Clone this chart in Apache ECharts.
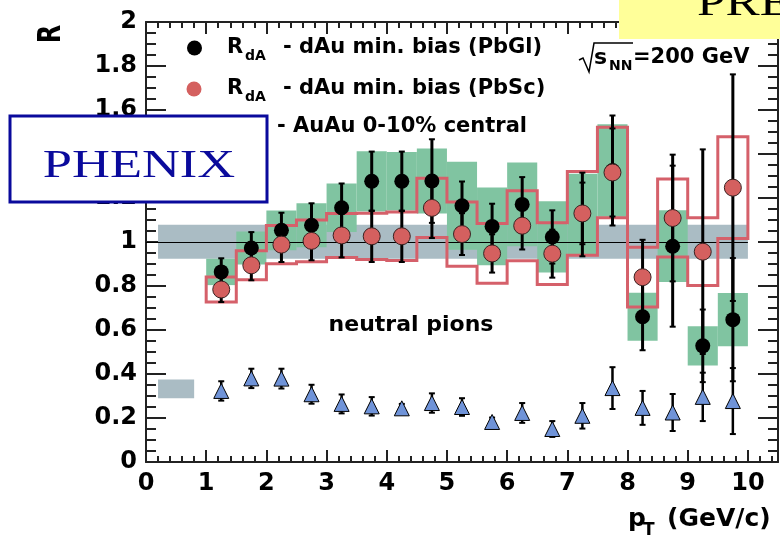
<!DOCTYPE html>
<html>
<head>
<meta charset="utf-8">
<script src="https://cdn.jsdelivr.net/npm/echarts@6/dist/echarts.min.js"></script>
<style>
  html, body { margin: 0; padding: 0; background: #ffffff; }
  #chart { width: 780px; height: 541px; }
</style>
</head>
<body>
<div id="chart"></div>
<script>
// pT bins (GeV/c): centres and half width
const binCenters = [1.25, 1.75, 2.25, 2.75, 3.25, 3.75, 4.25, 4.75, 5.25, 5.75, 6.25, 6.75, 7.25, 7.75, 8.25, 8.75, 9.25, 9.75];
const binHalfWidth = 0.25;

// R_dA, dAu min. bias, PbGl calorimeter
const pbglValues = [0.864, 0.973, 1.053, 1.076, 1.156, 1.276, 1.276, 1.277, 1.165, 1.071, 1.171, 1.023, 1.125, 1.325, 0.660, 0.981, 0.528, 0.647];
const pbglStat   = [0.062, 0.072, 0.080, 0.100, 0.110, 0.135, 0.135, 0.190, 0.110, 0.103, 0.124, 0.121, 0.190, 0.250, 0.152, 0.366, 0.165, 0.280];
const pbglSys    = [0.060, 0.075, 0.090, 0.100, 0.110, 0.137, 0.133, 0.148, 0.200, 0.177, 0.190, 0.162, 0.185, 0.210, 0.109, 0.163, 0.089, 0.121];

// R_dA, dAu min. bias, PbSc calorimeter
const pbscValues = [0.784, 0.894, 0.988, 1.005, 1.030, 1.026, 1.026, 1.155, 1.036, 0.948, 1.074, 0.947, 1.130, 1.316, 0.840, 1.109, 0.956, 1.247];
const pbscStat   = [0.057, 0.068, 0.079, 0.088, 0.100, 0.117, 0.117, 0.137, 0.095, 0.087, 0.108, 0.109, 0.140, 0.200, 0.170, 0.288, 0.465, 0.515];
const pbscSys    = [0.057, 0.066, 0.087, 0.095, 0.100, 0.105, 0.110, 0.135, 0.146, 0.136, 0.159, 0.140, 0.190, 0.206, 0.136, 0.177, 0.154, 0.231];

// R_AA, AuAu 0-10% central
const auauValues = [0.323, 0.380, 0.379, 0.308, 0.264, 0.253, 0.244, 0.268, 0.250, 0.182, 0.223, 0.150, 0.210, 0.336, 0.246, 0.225, 0.296, 0.277];
const auauStat   = [0.044, 0.044, 0.045, 0.043, 0.043, 0.042, 0.020, 0.044, 0.040, 0.020, 0.045, 0.036, 0.058, 0.095, 0.077, 0.084, 0.110, 0.150];

// normalisation uncertainties: [x0, x1, y0, y1]
const normBandDA = [0.2, 10.0, 0.924, 1.078];
const normBoxAA  = [0.2, 0.8, 0.290, 0.375];
// reference line at R = 1: [x0, x1, y]
const unityLine = [0, 10, 1];

// axis ranges and tick steps
const xRange = [0, 10.5];
const yRange = [0, 2];
const xMajorStep = 1, xMinorStep = 0.2;
const yMajorStep = 0.2, yMinorSplit = 4;

const SANS = '"DejaVu Sans", sans-serif';
const SERIF = '"Liberation Serif", "DejaVu Serif", serif';
const AXIS_COLOR = '#222222';
const GREEN = '#80c4a1';
const GREY = '#aabcc4';
const RED_LINE = '#d5606a';
const RED_MARK = '#d4605f';
const BLUE = '#6f93d8';

const chart = echarts.init(document.getElementById('chart'), null, { renderer: 'canvas' });

function boxRect(api, x0, x1, y0, y1) {
  const a = api.coord([x0, y1]);
  const b = api.coord([x1, y0]);
  return { x: a[0], y: a[1], width: b[0] - a[0], height: b[1] - a[1] };
}

function errorBarSeries(values, errs, width, capHalf) {
  return {
    type: 'custom',
    xAxisIndex: 0, yAxisIndex: 0,
    silent: true,
    data: binCenters.map((x, i) => [x, values[i] - errs[i], values[i] + errs[i]]),
    encode: { x: 0, y: [1, 2] },
    renderItem: function (params, api) {
      const top = api.coord([api.value(0), api.value(2)]);
      const bot = api.coord([api.value(0), api.value(1)]);
      const st = { stroke: '#000000', lineWidth: width };
      const cs = { stroke: '#000000', lineWidth: 2 };
      return {
        type: 'group',
        children: [
          { type: 'line', shape: { x1: top[0], y1: top[1], x2: bot[0], y2: bot[1] }, style: st },
          { type: 'line', shape: { x1: top[0] - capHalf, y1: top[1], x2: top[0] + capHalf, y2: top[1] }, style: cs },
          { type: 'line', shape: { x1: bot[0] - capHalf, y1: bot[1], x2: bot[0] + capHalf, y2: bot[1] }, style: cs }
        ]
      };
    }
  };
}

// x axes: major and minor ticks drawn by separate axes (bottom and top)
function xAxisDef(position, step, tickLen, showLine, showLabel) {
  return {
    type: 'value', position: position, min: xRange[0], max: xRange[1], interval: step,
    axisLine: { show: showLine, onZero: false, lineStyle: { color: AXIS_COLOR, width: 2 } },
    axisTick: { show: true, inside: true, length: tickLen, lineStyle: { color: AXIS_COLOR, width: 2 } },
    minorTick: { show: false },
    splitLine: { show: false },
    axisLabel: {
      show: showLabel, margin: 10, showMaxLabel: false,
      color: '#000000', fontFamily: SANS, fontWeight: 'bold', fontSize: 24
    }
  };
}
function yAxisDef(position, showLabel) {
  return {
    type: 'value', position: position, min: yRange[0], max: yRange[1], interval: yMajorStep,
    axisLine: { show: true, onZero: false, lineStyle: { color: AXIS_COLOR, width: 2 } },
    axisTick: { show: true, inside: true, length: 20, lineStyle: { color: AXIS_COLOR, width: 2 } },
    minorTick: { show: true, splitNumber: yMinorSplit, length: 10, lineStyle: { color: AXIS_COLOR, width: 2 } },
    splitLine: { show: false },
    axisLabel: {
      show: showLabel, margin: 9,
      color: '#000000', fontFamily: SANS, fontWeight: 'bold', fontSize: 24
    }
  };
}

function txt(x, y, text, size, opts) {
  opts = opts || {};
  return {
    type: 'text', x: x, y: y, z: 100,
    rotation: opts.rotation || 0,
    scaleX: opts.scaleX || 1, scaleY: opts.scaleY || 1,
    style: {
      text: text,
      fill: opts.color || '#000000',
      font: (opts.weight || 'bold') + ' ' + size + 'px ' + (opts.family || SANS),
      align: opts.align || 'left',
      verticalAlign: opts.valign || 'middle'
    }
  };
}

const option = {
  animation: false,
  backgroundColor: '#ffffff',
  grid: { left: 146, top: 22, width: 632, height: 440, containLabel: false },
  xAxis: [
    xAxisDef('bottom', xMajorStep, 12, true, true),
    xAxisDef('bottom', xMinorStep, 6, false, false),
    xAxisDef('top', xMajorStep, 12, true, false),
    xAxisDef('top', xMinorStep, 6, false, false)
  ],
  yAxis: [
    yAxisDef('left', true),
    yAxisDef('right', false)
  ],
  series: [
    // dAu normalisation band around R = 1
    {
      type: 'custom', silent: true, xAxisIndex: 0, yAxisIndex: 0,
      data: [normBandDA],
      encode: { x: [0, 1], y: [2, 3] },
      renderItem: function (params, api) {
        return { type: 'rect', shape: boxRect(api, api.value(0), api.value(1), api.value(2), api.value(3)), style: { fill: GREY } };
      }
    },
    // PbGl systematic boxes
    {
      type: 'custom', silent: true, xAxisIndex: 0, yAxisIndex: 0,
      data: binCenters.map((x, i) => [x, pbglValues[i] - pbglSys[i], pbglValues[i] + pbglSys[i]]),
      encode: { x: 0, y: [1, 2] },
      renderItem: function (params, api) {
        const x = api.value(0);
        return { type: 'rect', shape: boxRect(api, x - binHalfWidth, x + binHalfWidth, api.value(1), api.value(2)), style: { fill: GREEN } };
      }
    },
    // R = 1 reference line
    {
      type: 'custom', silent: true, xAxisIndex: 0, yAxisIndex: 0,
      data: [unityLine],
      encode: { x: [0, 1], y: 2 },
      renderItem: function (params, api) {
        const a = api.coord([api.value(0), api.value(2)]);
        const b = api.coord([api.value(1), api.value(2)]);
        return { type: 'line', shape: { x1: a[0], y1: Math.round(a[1]) + 0.5, x2: b[0], y2: Math.round(b[1]) + 0.5 }, style: { stroke: '#000000', lineWidth: 1 } };
      }
    },
    // PbSc systematic band: stepped outline over all bins
    {
      type: 'custom', silent: true, xAxisIndex: 0, yAxisIndex: 0,
      data: [[binCenters[0], pbscValues[0]]],
      encode: { x: 0, y: 1 },
      renderItem: function (params, api) {
        const upper = [], lower = [];
        binCenters.forEach((x, i) => {
          const hi = pbscValues[i] + pbscSys[i];
          const lo = pbscValues[i] - pbscSys[i];
          upper.push(api.coord([x - binHalfWidth, hi]), api.coord([x + binHalfWidth, hi]));
          lower.push(api.coord([x - binHalfWidth, lo]), api.coord([x + binHalfWidth, lo]));
        });
        const pts = upper.concat(lower.reverse());
        return { type: 'polygon', shape: { points: pts }, style: { fill: null, stroke: RED_LINE, lineWidth: 3, lineJoin: 'miter' } };
      }
    },
    // AuAu normalisation box
    {
      type: 'custom', silent: true, xAxisIndex: 0, yAxisIndex: 0,
      data: [normBoxAA],
      encode: { x: [0, 1], y: [2, 3] },
      renderItem: function (params, api) {
        return { type: 'rect', shape: boxRect(api, api.value(0), api.value(1), api.value(2), api.value(3)), style: { fill: GREY } };
      }
    },
    errorBarSeries(auauValues, auauStat, 2.5, 3),
    errorBarSeries(pbglValues, pbglStat, 3, 3),
    errorBarSeries(pbscValues, pbscStat, 3, 3),
    {
      name: 'AuAu 0-10% central', type: 'scatter', silent: true, xAxisIndex: 0, yAxisIndex: 0,
      symbol: 'triangle', symbolSize: [15, 15],
      itemStyle: { color: BLUE, borderColor: '#000000', borderWidth: 1, opacity: 1 },
      data: binCenters.map((x, i) => [x, auauValues[i]])
    },
    {
      name: 'dAu min. bias (PbGl)', type: 'scatter', silent: true, xAxisIndex: 0, yAxisIndex: 0,
      symbol: 'circle', symbolSize: 15,
      itemStyle: { color: '#000000', opacity: 1 },
      data: binCenters.map((x, i) => [x, pbglValues[i]])
    },
    {
      name: 'dAu min. bias (PbSc)', type: 'scatter', silent: true, xAxisIndex: 0, yAxisIndex: 0,
      symbol: 'circle', symbolSize: 17,
      itemStyle: { color: RED_MARK, borderColor: '#3a2222', borderWidth: 1, opacity: 1 },
      data: binCenters.map((x, i) => [x, pbscValues[i]])
    }
  ],
  graphic: [
    // axis titles
    txt(52, 34, 'R', 24, { rotation: Math.PI / 2, scaleY: 1.3, align: 'center' }),
    txt(628, 519, 'p', 25),
    txt(643, 531, 'T', 17),
    txt(667, 519, '(GeV/c)', 25),
    // legend
    { type: 'circle', z: 100, shape: { cx: 194.5, cy: 48, r: 7.5 }, style: { fill: '#000000' } },
    txt(227, 48, 'R', 21),
    txt(245, 56, 'dA', 14),
    txt(283, 48, '- dAu min. bias (PbGl)', 21),
    { type: 'circle', z: 100, shape: { cx: 194, cy: 89, r: 7.5 }, style: { fill: RED_MARK } },
    txt(227, 89, 'R', 21),
    txt(245, 97, 'dA', 14),
    txt(283, 89, '- dAu min. bias (PbSc)', 21),
    txt(277, 127, '- AuAu 0-10% central', 21),
    // collision energy
    { type: 'polyline', z: 100, shape: { points: [[579, 60], [583, 58], [589, 72], [594, 43], [633, 43]] }, style: { stroke: '#000000', lineWidth: 1.5, fill: null } },
    txt(594, 58, 's', 22),
    txt(609, 66, 'NN', 14),
    txt(633, 58, '=200 GeV', 21),
    txt(411, 325, 'neutral pions', 22, { align: 'center' }),
    // experiment tag
    { type: 'rect', z: 100, shape: { x: 10, y: 116, width: 257, height: 86 }, style: { fill: '#ffffff', stroke: '#0a0a9c', lineWidth: 3 } },
    txt(139, 166, 'PHENIX', 41, { weight: 'normal', family: SERIF, color: '#0a0a9c', align: 'center', scaleX: 1.28 }),
    { type: 'rect', z: 100, shape: { x: 619, y: 0, width: 161, height: 39 }, style: { fill: '#ffff99' } },
    txt(697, 4, 'PRE', 40, { weight: 'normal', family: SERIF, scaleX: 1.28 })
  ]
};

chart.setOption(option);
</script>
</body>
</html>
